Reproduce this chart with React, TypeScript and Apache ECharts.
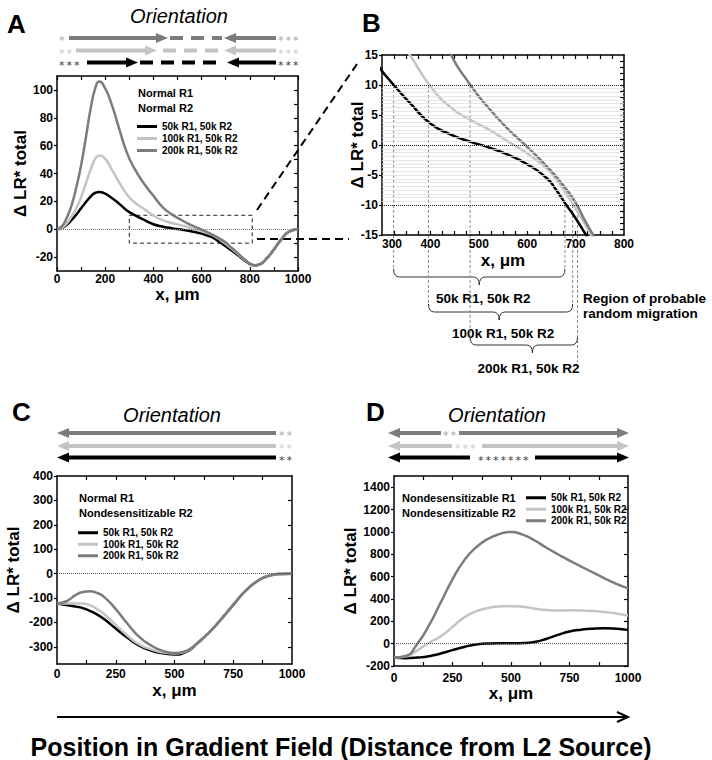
import React, { useEffect, useRef } from "react";
import * as echarts from "echarts";

const SERIES_NAMES = ["50k R1, 50k R2", "100k R1, 50k R2", "200k R1, 50k R2"];

// Panel A (panel B is a zoom of the same curves)
const A_X = [0, 20, 40, 60, 80, 100, 120, 140, 160, 175, 200, 230, 260, 290, 320, 360, 400, 440, 480, 520, 560, 600, 640, 660, 680, 700, 720, 740, 770, 800, 820, 840, 870, 900, 930, 960, 1000];
const A_50K = [0, 0.8, 3, 6.5, 10.5, 15, 19.5, 23.5, 26.2, 26.7, 25.5, 22, 18, 13.5, 10.4, 6.8, 3.6, 1.8, 0.6, -0.4, -1.6, -3.2, -5.5, -7.5, -9.9, -12.2, -14.8, -17.2, -21.3, -25, -26, -25.3, -21, -14.5, -7.5, -2, 0];
const A_100K = [0, 1, 4, 9, 15, 23, 33, 43, 51, 53, 50.5, 42, 33, 25, 19.5, 14.7, 9.8, 6.4, 4.3, 2.6, 0.6, -1.4, -3.9, -5.7, -8, -10.6, -13.3, -16.2, -20.8, -24.7, -25.9, -25.3, -21, -14.5, -7.5, -2, 0];
const A_200K = [0, 2, 8, 17, 30, 46, 66, 87, 102, 106, 101, 88, 71, 55, 44, 33, 24, 15.5, 10.3, 6.2, 2.7, -0.3, -3.5, -5.3, -7.3, -9.6, -12.7, -15.6, -20.5, -24.6, -25.8, -25.3, -21, -14.5, -7.5, -2, 0];
const A_BOX_X = [300, 810, 810, 300, 300];
const A_BOX_Y = [10, 10, -10, -10, 10];

// Panel B annotations: crossings of +10 and -10
const B_CROSS_UPPER = [324, 396, 482];
const B_CROSS_LOWER = [678, 694, 704];
const B_BRACE_LABELS = ["50k R1, 50k R2", "100k R1, 50k R2", "200k R1, 50k R2"];
const B_DOTTED = [10, 0, -10];

// Panel C
const C_X = [0, 40, 80, 110, 140, 170, 200, 250, 300, 350, 400, 450, 500, 550, 600, 650, 700, 750, 800, 850, 900, 950, 1000];
const C_50K = [-122, -128, -135, -141, -152, -167, -186, -225, -262, -295, -315, -326, -331, -320, -283, -238, -185, -128, -73, -32, -9, -1, 0];
const C_100K = [-122, -122, -122, -123, -129, -145, -165, -210, -254, -290, -310, -322, -327, -318, -283, -238, -185, -128, -73, -32, -9, -1, 0];
const C_200K = [-122, -113, -87, -75, -72, -79, -95, -145, -205, -259, -294, -316, -325, -316, -282, -238, -185, -128, -73, -32, -9, -1, 0];

// Panel D
const D_X = [0, 50, 100, 150, 200, 250, 300, 350, 400, 450, 500, 550, 600, 650, 700, 750, 800, 850, 900, 950, 1000];
const D_50K = [-124, -130, -125, -112, -88, -58, -30, -7, 2, 3, 3, 5, 15, 42, 78, 108, 125, 134, 137, 133, 122];
const D_100K = [-124, -115, -60, 8, 65, 150, 235, 288, 318, 333, 335, 330, 315, 300, 297, 298, 296, 292, 283, 270, 250];
const D_200K = [-124, -110, 0, 165, 370, 575, 745, 860, 935, 980, 1000, 975, 925, 860, 800, 742, 690, 637, 585, 535, 495];

// Ticks and labels
const A_X_TICKS = [0, 100, 200, 300, 400, 500, 600, 700, 800, 900, 1000];
const A_X_LABELS = [0, 200, 400, 600, 800, 1000];
const A_Y_TICKS = [-20, -10, 0, 10, 20, 30, 40, 50, 60, 70, 80, 90, 100];
const A_Y_LABELS = [-20, 0, 20, 40, 60, 80, 100];
const B_X_TICKS = [325, 350, 375, 400, 425, 450, 475, 500, 525, 550, 575, 600, 625, 650, 675, 700, 725, 750, 775];
const B_X_LABELS = [300, 400, 500, 600, 700, 800];
const B_Y_TICKS = [-14, -13, -12, -11, -10, -9, -8, -7, -6, -5, -4, -3, -2, -1, 0, 1, 2, 3, 4, 5, 6, 7, 8, 9, 10, 11, 12, 13, 14];
const B_Y_LABELS = [-15, -10, -5, 0, 5, 10, 15];
const CD_X_TICKS = [125, 250, 375, 500, 625, 750, 875];
const CD_X_LABELS = [0, 250, 500, 750, 1000];
const C_Y_TICKS = [-300, -200, -100, 0, 100, 200, 300];
const C_Y_LABELS = [-300, -200, -100, 0, 100, 200, 300, 400];
const D_Y_TICKS = [-200, 0, 200, 400, 600, 800, 1000, 1200, 1400];
const D_Y_LABELS = [-200, 0, 200, 400, 600, 800, 1000, 1200, 1400];

const FONT = '"Liberation Sans", Arial, Helvetica, sans-serif';
const COLORS = ["#000000", "#c4c4c4", "#7c7c7c"];
const GRAY = "#7c7c7c";
const LIGHT = "#c4c4c4";
const BLACK = "#000000";
const plain = (v: number) => String(v);

function xAxes(gridIndex: number, min: number, max: number, ticks: number[], labels: number[], nameGap: number, margin: number, alignMin?: string) {
  const line = { show: true, onZero: false, lineStyle: { color: "#000", width: 1.5 } };
  const label: any = { show: true, customValues: labels, formatter: plain, margin, fontFamily: FONT, fontSize: 12, fontWeight: "bold", color: "#000" };
  if (alignMin) label.alignMinLabel = alignMin;
  return [
    {
      type: "value", gridIndex, min, max, position: "bottom",
      name: "x, \u03bcm", nameLocation: "middle", nameGap,
      nameTextStyle: { fontFamily: FONT, fontSize: 17, fontWeight: "bold", color: "#000" },
      axisLine: line,
      axisTick: { show: true, inside: true, length: 4, customValues: ticks, lineStyle: { color: "#000", width: 1.2 } },
      axisLabel: label,
      splitLine: { show: false },
    },
    {
      type: "value", gridIndex, min, max, position: "top",
      axisLine: line,
      axisTick: { show: true, inside: true, length: 4, customValues: ticks, lineStyle: { color: "#000", width: 1.2 } },
      axisLabel: { show: false },
      splitLine: { show: false },
    },
  ];
}

function yAxes(gridIndex: number, min: number, max: number, ticks: number[], labels: number[], nameGap: number, noMove?: boolean) {
  const line = { show: true, onZero: false, lineStyle: { color: "#000", width: 1.5 } };
  const left: any = {
    type: "value", gridIndex, min, max, position: "left",
    name: "\u0394 LR* total", nameLocation: "middle", nameGap, nameRotate: 90,
    nameTextStyle: { fontFamily: FONT, fontSize: 17, fontWeight: "bold", color: "#000" },
    axisLine: line,
    axisTick: { show: true, inside: false, length: 3, customValues: labels, lineStyle: { color: "#000", width: 1.2 } },
    axisLabel: { show: true, customValues: labels, formatter: plain, margin: 4, fontFamily: FONT, fontSize: 12, fontWeight: "bold", color: "#000" },
    splitLine: { show: false },
  };
  if (noMove) left.nameMoveOverlap = false;
  return [
    left,
    {
      type: "value", gridIndex, min, max, position: "right",
      axisLine: line,
      axisTick: { show: true, inside: true, length: 4, customValues: ticks, lineStyle: { color: "#000", width: 1.2 } },
      axisLabel: { show: false },
      splitLine: { show: false },
    },
  ];
}

function curves(axisIndex: number, X: number[], ys: number[][]) {
  return ys.map((vals, i) => ({
    type: "line",
    name: SERIES_NAMES[i],
    xAxisIndex: axisIndex,
    yAxisIndex: axisIndex,
    data: X.map((x, k) => [x, vals[k]]),
    showSymbol: false,
    symbol: "none",
    smooth: 0.55,
    clip: true,
    silent: true,
    z: 3,
    lineStyle: { color: COLORS[i], width: 2.5 },
    itemStyle: { color: COLORS[i] },
  }));
}

function refLines(axisIndex: number, xMin: number, values: number[], color: string, type: string, width: number, z: number) {
  return {
    type: "line",
    xAxisIndex: axisIndex,
    yAxisIndex: axisIndex,
    data: [[xMin, values[0]]],
    showSymbol: false,
    symbol: "none",
    silent: true,
    z,
    lineStyle: { opacity: 0 },
    markLine: {
      silent: true,
      symbol: ["none", "none"],
      label: { show: false },
      lineStyle: { color, type, width },
      data: values.map((v) => ({ yAxis: v })),
    },
  };
}

function legend(left: number, top: number, lineHeight: number) {
  return {
    data: SERIES_NAMES,
    left, top,
    orient: "vertical",
    icon: "rect",
    itemWidth: 20,
    itemHeight: 3,
    itemGap: 0,
    padding: 0,
    selectedMode: false,
    textStyle: { fontFamily: FONT, fontSize: 10, fontWeight: "bold", color: "#000", lineHeight },
  };
}

function buildOption() {
  const hatch: number[] = [];
  for (let v = -9.375; v < 10; v += 0.625) hatch.push(v);
  return {
    animation: false,
    backgroundColor: "#fff",
    grid: [
      { left: 57, top: 76, width: 241, height: 195 },
      { left: 382, top: 55, width: 242, height: 180 },
      { left: 57, top: 476, width: 235, height: 188 },
      { left: 394, top: 476, width: 234, height: 190 },
    ],
    xAxis: [
      ...xAxes(0, 0, 1000, A_X_TICKS, A_X_LABELS, 10, 2),
      ...xAxes(1, 300, 800, B_X_TICKS, B_X_LABELS, 17, 3, "left"),
      ...xAxes(2, 0, 1000, CD_X_TICKS, CD_X_LABELS, 18, 4),
      ...xAxes(3, 0, 1000, CD_X_TICKS, CD_X_LABELS, 19, 6),
    ],
    yAxis: [
      ...yAxes(0, -30, 110, A_Y_TICKS, A_Y_LABELS, 25),
      ...yAxes(1, -15, 15, B_Y_TICKS, B_Y_LABELS, 16, true),
      ...yAxes(2, -370, 400, C_Y_TICKS, C_Y_LABELS, 35),
      ...yAxes(3, -200, 1500, D_Y_TICKS, D_Y_LABELS, 28),
    ],
    legend: [legend(137, 120.5, 12), legend(78, 527, 11.5), legend(526, 492, 11.5)],
    series: [
      // A
      refLines(0, 0, [0], "#777", "dotted", 1, 1),
      {
        type: "line", xAxisIndex: 0, yAxisIndex: 0, name: "zoom region",
        data: A_BOX_X.map((x, k) => [x, A_BOX_Y[k]]),
        showSymbol: false, symbol: "none", silent: true, z: 2,
        lineStyle: { color: "#222", width: 1, type: [4, 3] },
      },
      ...curves(0, A_X, [A_50K, A_100K, A_200K]),
      // B
      refLines(2, 300, hatch, "#dedede", "solid", 0.8, 1),
      refLines(2, 300, B_DOTTED, "#222", "dotted", 1, 2),
      ...curves(2, A_X, [A_50K, A_100K, A_200K]),
      // C
      refLines(4, 0, [0], "#555", "dotted", 1, 1),
      ...curves(4, C_X, [C_50K, C_100K, C_200K]),
      // D
      refLines(6, 0, [0], "#555", "dotted", 1, 1),
      ...curves(6, D_X, [D_50K, D_100K, D_200K]),
    ],
  };
}

// ---------- decorative graphics ----------
function gLine(x1: number, y1: number, x2: number, y2: number, stroke: string, lineWidth: number, lineDash?: number[]) {
  return { type: "line", silent: true, shape: { x1, y1, x2, y2 }, style: { stroke, lineWidth, lineDash: lineDash || null } };
}
function gHead(tip: number, y: number, dir: number, fill: string) {
  return { type: "polygon", silent: true, shape: { points: [[tip, y], [tip - dir * 12, y - 5], [tip - dir * 12, y + 5]] }, style: { fill } };
}
function gText(text: string, x: number, y: number, font: string, fill: string, align = "left", verticalAlign = "middle") {
  return { type: "text", silent: true, x, y, style: { text, font, fill, align, verticalAlign } };
}
// a run of asterisks, one glyph every 7.5 px
function gStars(count: number, x: number, y: number, fill: string) {
  const out: any[] = [];
  for (let i = 0; i < count; i++) {
    out.push(gText("*", x + i * 7.5, y + 2.5, '11px "DejaVu Sans"', fill));
  }
  return out;
}
function gBrace(x0: number, x1: number, y: number, tip: number, stroke: string) {
  const rx = 6, ry = 8;
  const st = { stroke, lineWidth: 1, fill: null };
  return [
    { type: "bezierCurve", silent: true, shape: { x1: x0, y1: y - ry, cpx1: x0, cpy1: y, x2: x0 + rx, y2: y }, style: st },
    gLine(x0 + rx, y, tip - rx, y, stroke, 1),
    { type: "bezierCurve", silent: true, shape: { x1: tip - rx, y1: y, cpx1: tip, cpy1: y, x2: tip, y2: y + ry }, style: st },
    { type: "bezierCurve", silent: true, shape: { x1: tip, y1: y + ry, cpx1: tip, cpy1: y, x2: tip + rx, y2: y }, style: st },
    gLine(tip + rx, y, x1 - rx, y, stroke, 1),
    { type: "bezierCurve", silent: true, shape: { x1: x1 - rx, y1: y, cpx1: x1, cpy1: y, x2: x1, y2: y - ry }, style: st },
  ];
}

function buildGraphic(chart: any) {
  const els: any[] = [];
  const BOLD = (s: number) => `bold ${s}px ${FONT}`;
  const STAR_GRAY = "#a6a6a6";
  const STAR_LIGHT = "#c8c8c8";
  const STAR_DARK = "#3a3a3a";

  // Panel letters and "Orientation"
  els.push(gText("A", 7, 23.5, BOLD(26), "#000"));
  els.push(gText("B", 362, 22.5, BOLD(26), "#000"));
  els.push(gText("C", 12, 412, BOLD(26), "#000"));
  els.push(gText("D", 366, 412, BOLD(26), "#000"));
  els.push(gText("Orientation", 179, 16, `italic 20px ${FONT}`, "#000", "center"));
  els.push(gText("Orientation", 172, 414.5, `italic 20px ${FONT}`, "#000", "center"));
  els.push(gText("Orientation", 497, 414.5, `italic 20px ${FONT}`, "#000", "center"));

  // Panel A orientation arrows
  const dash = [13, 8];
  els.push(...gStars(1, 59, 38, STAR_GRAY));
  els.push(gLine(69, 38, 157, 38, GRAY, 4), gHead(168, 38, 1, GRAY));
  els.push(gLine(170, 38, 222, 38, GRAY, 4, dash));
  els.push(gHead(224, 38, -1, GRAY), gLine(235, 38, 276, 38, GRAY, 4));
  els.push(...gStars(3, 278, 38, STAR_GRAY));

  els.push(...gStars(2, 59, 50.5, STAR_LIGHT));
  els.push(gLine(76, 50.5, 146, 50.5, LIGHT, 4), gHead(157, 50.5, 1, LIGHT));
  els.push(gLine(163, 50.5, 222, 50.5, LIGHT, 4, dash));
  els.push(gHead(224, 50.5, -1, LIGHT), gLine(235, 50.5, 276, 50.5, LIGHT, 4));
  els.push(...gStars(3, 278, 50.5, STAR_LIGHT));

  els.push(...gStars(3, 59, 62.5, STAR_DARK));
  els.push(gLine(87, 62.5, 127, 62.5, BLACK, 4), gHead(138, 62.5, 1, BLACK));
  els.push(gLine(140, 62.5, 224, 62.5, BLACK, 4, dash));
  els.push(gHead(227, 62.5, -1, BLACK), gLine(238, 62.5, 276, 62.5, BLACK, 4));
  els.push(...gStars(3, 278, 62.5, STAR_DARK));

  // Panel A headers
  els.push(gText("Normal R1", 138, 93, BOLD(11), "#000"));
  els.push(gText("Normal R2", 138, 107.5, BOLD(11), "#000"));

  // connectors A -> B
  els.push(gLine(257, 210, 357, 64, "#000", 2, [8, 5]));
  els.push(gLine(257, 239, 349, 239, "#000", 2, [8, 5]));

  // Panel B vertical guide lines and braces
  const px = (x: number, y: number) => chart.convertToPixel({ xAxisIndex: 2, yAxisIndex: 2 }, [x, y]);
  const braceY = [277, 312, 345];
  const tipFrac = [0.5, 0.49, 0.58];
  for (let i = 0; i < 3; i++) {
    const pu = px(B_CROSS_UPPER[i], 10);
    const pl = px(B_CROSS_LOWER[i], -10);
    const by = braceY[i];
    els.push(gLine(pu[0], pu[1], pu[0], by - 8, "#8a8a8a", 1, [3, 2]));
    els.push(gLine(pl[0], pl[1], pl[0], i === 2 ? by + 17 : by - 8, "#8a8a8a", 1, [3, 2]));
    const tip = pu[0] + (pl[0] - pu[0]) * tipFrac[i];
    els.push(...gBrace(pu[0], pl[0], by, tip, "#333"));
    els.push(gText(B_BRACE_LABELS[i], tip + (i === 2 ? -4 : 4), by + 21 + (i === 2 ? 2 : 0), BOLD(13.5), "#000", "center"));
  }
  els.push(gText("Region of probable", 583, 298, BOLD(13.5), "#000"));
  els.push(gText("random migration", 583, 313, BOLD(13.5), "#000"));

  // Panel C arrows
  const cRows = [
    { y: 433, c: GRAY, s: STAR_GRAY },
    { y: 446, c: LIGHT, s: STAR_LIGHT },
    { y: 457.5, c: BLACK, s: STAR_DARK },
  ];
  cRows.forEach((r) => {
    els.push(gHead(57, r.y, -1, r.c), gLine(68, r.y, 276, r.y, r.c, 4));
    els.push(...gStars(2, 279, r.y, r.s));
  });
  els.push(gText("Normal R1", 79, 498, BOLD(11), "#000"));
  els.push(gText("Nondesensitizable R2", 79, 513, BOLD(11), "#000"));

  // Panel D arrows
  const dRows = [
    { y: 433, c: GRAY, s: STAR_GRAY, a: 441, n: 2, sx: 443, b: 459 },
    { y: 446, c: LIGHT, s: STAR_LIGHT, a: 452, n: 3, sx: 455, b: 482 },
    { y: 457.5, c: BLACK, s: STAR_DARK, a: 470, n: 7, sx: 478, b: 535 },
  ];
  dRows.forEach((r) => {
    els.push(gHead(388, r.y, -1, r.c), gLine(399, r.y, r.a, r.y, r.c, 4));
    els.push(...gStars(r.n, r.sx, r.y, r.s));
    els.push(gLine(r.b, r.y, 618, r.y, r.c, 4), gHead(629, r.y, 1, r.c));
  });
  els.push(gText("Nondesensitizable R1", 402, 498, BOLD(11), "#000"));
  els.push(gText("Nondesensitizable R2", 402, 513, BOLD(11), "#000"));

  // Bottom arrow and caption
  els.push(gLine(57, 717, 627, 717, "#000", 2));
  els.push({ type: "polyline", silent: true, shape: { points: [[617, 712], [628, 717], [617, 722]] }, style: { stroke: "#000", lineWidth: 2, fill: null } });
  els.push(gText("Position in Gradient Field (Distance from L2 Source)", 341, 747, BOLD(25), "#000", "center"));

  return els;
}

export default function App() {
  const ref = useRef<HTMLDivElement>(null);
  useEffect(() => {
    if (!ref.current) return;
    const chart = echarts.init(ref.current, null, { renderer: "svg" });
    chart.setOption(buildOption() as any);
    chart.setOption({ graphic: buildGraphic(chart) } as any);
    return () => chart.dispose();
  }, []);
  return <div ref={ref} style={{ position: "absolute", left: 0, top: 0, width: 712, height: 760, background: "#fff" }} />;
}
